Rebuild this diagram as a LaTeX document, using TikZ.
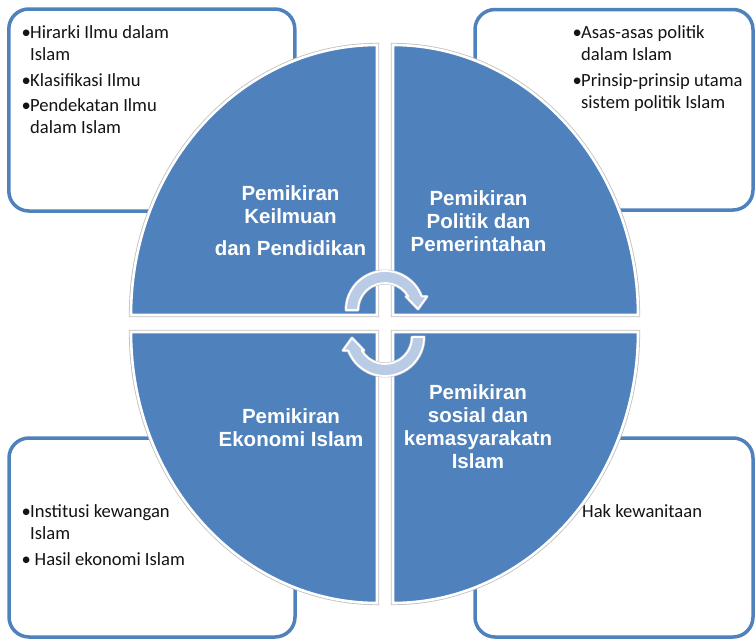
\documentclass[tikz,border=0pt]{standalone}
\usepackage{fontspec}
\setmainfont{Carlito}
\newfontfamily\quadfont{Liberation Sans}
\definecolor{accent}{HTML}{4F81BD}
\definecolor{arrowfill}{HTML}{BACBE5}
\begin{document}
\begin{tikzpicture}[x=1pt,y=1pt,
  cornerbox/.style={draw=accent, line width=3.5pt, fill=white, rounded corners=20pt, inner sep=0pt},
  boxtext/.style={anchor=base west, inner sep=0pt, text=black!92, font=\fontsize{18.6}{22}\selectfont},
  quadtext/.style={anchor=base, inner sep=0pt, text=white, font=\quadfont\bfseries\fontsize{20.5}{23}\selectfont},
  quad/.style={fill=accent, draw=white, line width=2.6pt, preaction={draw=black!25, line width=4.2pt}},
  arrowshape/.style={fill=arrowfill, draw=white, line width=1.8pt, line join=round, preaction={draw=black!22, line width=3pt, line join=round}}
]
\useasboundingbox (0,0) rectangle (755,-640);

% corner boxes
\node[cornerbox, minimum width=286pt, minimum height=202pt] (tlbox) at (151.8,-110) {};
\node[cornerbox, minimum width=278pt, minimum height=200.5pt] (trbox) at (614,-109.75) {};
\node[cornerbox, minimum width=286pt, minimum height=199pt] (blbox) at (152,-537.5) {};
\node[cornerbox, minimum width=278pt, minimum height=199pt] (brbox) at (614,-537.5) {};

% box texts
\node[boxtext] (tltext) at (21.5,-38) {\begin{tabular}[t]{@{}l@{}l@{}}
\makebox[8.5pt][l]{•}&Hirarki Ilmu dalam\\
&Islam\\[4pt]
\makebox[8.5pt][l]{•}&Klasifikasi Ilmu\\[3pt]
\makebox[8.5pt][l]{•}&Pendekatan Ilmu\\
&dalam Islam
\end{tabular}};
\node[boxtext] (trtext) at (572.5,-38) {\begin{tabular}[t]{@{}l@{}l@{}}
\makebox[8.5pt][l]{•}&Asas-asas politik\\
&dalam Islam\\[4pt]
\makebox[8.5pt][l]{•}&Prinsip-prinsip utama\\
&sistem politik Islam
\end{tabular}};
\node[boxtext] (bltext) at (21.5,-517) {\begin{tabular}[t]{@{}l@{}l@{}}
\makebox[8.5pt][l]{•}&Institusi kewangan\\
&Islam\\[4pt]
\makebox[8.5pt][l]{•}&\hspace{4.5pt}Hasil ekonomi Islam
\end{tabular}};
\node[boxtext] (brtext) at (582,-517) {Hak kewanitaan};

% quadrants
\path[quad] (377,-315) -- (131,-315) arc[start angle=180, end angle=90, x radius=246pt, y radius=270pt] -- cycle;
\path[quad] (393,-315) -- (393,-45) arc[start angle=90, end angle=0, x radius=245pt, y radius=270pt] -- cycle;
\path[quad] (377,-332) -- (131,-332) arc[start angle=180, end angle=270, x radius=246pt, y radius=271pt] -- cycle;
\path[quad] (393,-332) -- (638,-332) arc[start angle=0, end angle=-90, x radius=245pt, y radius=271pt] -- cycle;

% quadrant labels
\node[quadtext] (tlq) at (290.5,-200) {\begin{tabular}[t]{@{}c@{}}Pemikiran\\ Keilmuan\\[9pt] dan Pendidikan\end{tabular}};
\node[quadtext] (trq) at (478.5,-205) {\begin{tabular}[t]{@{}c@{}}Pemikiran\\ Politik dan\\ Pemerintahan\end{tabular}};
\node[quadtext] (blq) at (291,-423) {\begin{tabular}[t]{@{}c@{}}Pemikiran\\ Ekonomi Islam\end{tabular}};
\node[quadtext] (brq) at (478,-399) {\begin{tabular}[t]{@{}c@{}}Pemikiran\\ sosial dan\\ kemasyarakatn\\ Islam\end{tabular}};

% circular arrows
\begin{scope}[shift={(385,-310)}]
\path[arrowshape] (-39,0) arc[start angle=180, end angle=20.25, radius=39pt] -- (42,13.5) -- (33,1) -- (21,13.5) -- (23.38,13.5) arc[start angle=30, end angle=180, radius=27pt] -- cycle;
\end{scope}
\begin{scope}[shift={(385,-337)}, rotate=180]
\path[arrowshape] (-39,0) arc[start angle=180, end angle=20.25, radius=39pt] -- (42,13.5) -- (33,1) -- (21,13.5) -- (23.38,13.5) arc[start angle=30, end angle=180, radius=27pt] -- cycle;
\end{scope}
\end{tikzpicture}
\end{document}
